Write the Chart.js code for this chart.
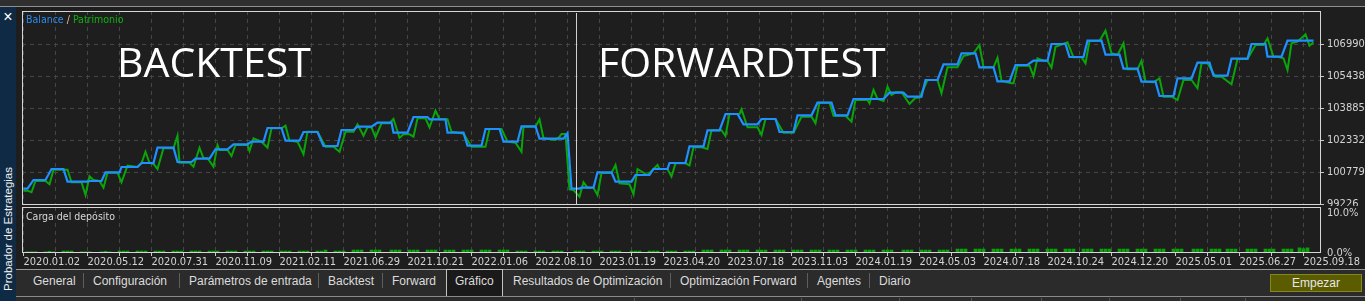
<!DOCTYPE html>
<html>
<head>
<meta charset="utf-8">
<script src="https://cdn.jsdelivr.net/npm/chart.js@4"></script>
<style>
  html, body { margin: 0; padding: 0; }
  body { width: 1365px; height: 301px; overflow: hidden; position: relative; background: #1e1e1e; font-family: 'Liberation Sans', Arial, sans-serif; }
  .abs { position: absolute; }
  .narrow { font-family: 'Liberation Sans Narrow', 'DejaVu Sans Condensed', 'Liberation Sans', sans-serif; }
  #topbar { left: 0; top: 0; width: 1365px; height: 6px; background: #2f2f2f; }
  #topline { left: 0; top: 6px; width: 1365px; height: 1px; background: #8f8f8f; }
  #side { left: 0; top: 7px; width: 16px; height: 294px; background: #0f2a45; }
  #close { left: 0; top: 9px; width: 16px; text-align: center; color: #fff; font-size: 16px; line-height: 16px; }
  #sideText { left: 2px; top: 291px; transform-origin: 0 0; transform: rotate(-90deg); color: #f0f0f0; font-size: 11.5px; line-height: 12px; white-space: nowrap; }
  #legend { left: 26px; top: 13px; font-size: 10.5px; line-height: 12px; white-space: nowrap; }
  .big { color: #fff; font-family: 'Open Sans', sans-serif; font-size: 41px; line-height: 41px; white-space: nowrap; }
  #loadTitle { left: 26px; top: 210px; font-size: 10.5px; line-height: 12px; color: #d8d8d8; white-space: nowrap; }
  #tabbar { left: 16px; top: 269px; width: 1349px; height: 27px; background: #2b2b2b; border-top: 1px solid #9a9a9a; box-sizing: border-box; }
  #activeTab { left: 446px; top: 269px; width: 57px; height: 27px; background: #1a1a1a; border: 1px solid #c4c4c4; border-bottom: none; box-sizing: border-box; }
  .tab { top: 274px; color: #dcdcdc; font-size: 12px; line-height: 14px; white-space: nowrap; }
  .sep { top: 273px; width: 1px; height: 15px; background: #5e5e5e; }
  #bottomline { left: 16px; top: 296px; width: 1349px; height: 1px; background: #8a8a8a; }
  #status { left: 16px; top: 297px; width: 1349px; height: 4px; background: #2b2b2b; }
  .ssep { top: 298px; width: 1px; height: 3px; background: #555; }
  #startBtn { left: 1270px; top: 274px; width: 92px; height: 18px; background: #5b5b00; border: 1px solid #86861c; box-sizing: border-box; color: #e8e8e8; font-size: 12px; line-height: 16px; text-align: center; }
</style>
</head>
<body>
<div class="abs" id="topbar"></div>
<div class="abs" id="topline"></div>
<div class="abs" id="side"></div>
<div class="abs" id="close">×</div>
<div class="abs" id="sideText">Probador de Estrategias</div>

<canvas class="abs" id="equityChart" width="1343" height="195" style="left:22px;top:11px;"></canvas>
<canvas class="abs" id="loadChart" width="1343" height="64" style="left:22px;top:207px;"></canvas>

<div class="abs narrow" id="legend"><span style="color:#2a8cf0">Balance</span> <span style="color:#e0c8a8">/</span> <span style="color:#10b010">Patrimonio</span></div>
<div class="abs big" style="left:117px;top:41px;">BACKTEST</div>
<div class="abs big" style="left:598px;top:41px;">FORWARDTEST</div>
<div class="abs narrow" id="loadTitle">Carga del depósito</div>

<div class="abs" id="tabbar"></div>
<div class="abs" id="activeTab"></div>
<div class="abs tab" style="left:33px">General</div>
<div class="abs sep" style="left:83px"></div>
<div class="abs tab" style="left:93px">Configuración</div>
<div class="abs sep" style="left:179px"></div>
<div class="abs tab" style="left:189px">Parámetros de entrada</div>
<div class="abs sep" style="left:318px"></div>
<div class="abs tab" style="left:328px">Backtest</div>
<div class="abs sep" style="left:382px"></div>
<div class="abs tab" style="left:392px">Forward</div>
<div class="abs tab" style="left:455px">Gráfico</div>
<div class="abs tab" style="left:513px">Resultados de Optimización</div>
<div class="abs sep" style="left:670px"></div>
<div class="abs tab" style="left:680px">Optimización Forward</div>
<div class="abs sep" style="left:807px"></div>
<div class="abs tab" style="left:817px">Agentes</div>
<div class="abs sep" style="left:869px"></div>
<div class="abs tab" style="left:879px">Diario</div>
<div class="abs" id="startBtn">Empezar</div>
<div class="abs" id="bottomline"></div>
<div class="abs" id="status"></div>
<div class="abs ssep" style="left:634px"></div>
<div class="abs ssep" style="left:801px"></div>
<div class="abs ssep" style="left:899px"></div>
<div class="abs ssep" style="left:971px"></div>
<div class="abs ssep" style="left:1041px"></div>
<div class="abs ssep" style="left:1109px"></div>
<div class="abs ssep" style="left:1180px"></div>
<div class="abs ssep" style="left:1245px"></div>

<script>
// eje X: número de operación en el historial (backtest + forward)
const dateLabels = ['2020.01.02', '2020.05.12', '2020.07.31', '2020.11.09', '2021.02.11', '2021.06.29',
  '2021.10.21', '2022.01.06', '2022.08.10', '2023.01.19', '2023.04.20', '2023.07.18', '2023.11.03',
  '2024.01.19', '2024.05.03', '2024.07.18', '2024.10.24', '2024.12.20', '2025.05.01', '2025.06.27', '2025.09.18'];
const yTickValues = [99226, 100779, 102332, 103885, 105438, 106990];
const loadTickValues = [0, 10];
const loadTickLabels = ['0.0%', '10.0%'];
const forwardStartDeal = 276;

// balance: cada tramo plano (desde, hasta, valor)
const balanceFrom = [0, 5, 14, 22, 33, 41, 49, 59, 67, 77, 86, 96, 105, 114, 122, 131, 140, 150, 159, 167,
  177, 185, 195, 203, 212, 222, 231, 240, 249, 258, 272, 274, 279, 287, 296, 306, 315, 323, 333, 342,
  351, 360, 369, 378, 387, 397, 406, 415, 433, 442, 451, 460, 469, 478, 487, 496, 505, 514, 523, 532,
  541, 550, 559, 568, 577, 587, 595, 604, 614, 622, 632];
const balanceTo = [2, 11, 20, 32, 39, 48, 57, 65, 75, 84, 93, 102, 112, 120, 129, 138, 147, 157, 165, 174,
  184, 192, 202, 211, 220, 229, 238, 247, 256, 270, 272, 278, 285, 294, 304, 313, 322, 331, 340, 348,
  357, 367, 376, 385, 394, 404, 412, 430, 440, 449, 457, 467, 476, 485, 493, 502, 512, 521, 530, 539,
  548, 557, 566, 575, 584, 593, 602, 612, 621, 629, 645];
const balanceValue = [100000, 100415, 100949, 100332, 100366, 100789, 101046, 101240, 101982, 101288,
  101448, 101905, 102147, 102273, 102938, 102322, 102744, 102065, 102841, 103001,
  103195, 102710, 103472, 103360, 102710, 102079, 102890, 102273, 103021, 102419,
  102681, 100000, 100041, 100789, 100332, 100657, 100949, 101240, 102050, 102826,
  103617, 103118, 103375, 102744, 103554, 104166, 103554, 104345, 104651, 104457,
  105267, 106029, 106563, 105884, 105200, 105995, 106204, 107014, 106383, 107174,
  106495, 105816, 105185, 104491, 105350, 106107, 105476, 106301, 107014, 106398, 107174];

// patrimonio (equity)
const equityDeal = [0, 2, 4, 6, 11, 13, 15, 22, 24, 29,
  31, 33, 35, 38, 40, 42, 47, 49, 52, 57,
  59, 61, 63, 65, 67, 70, 75, 77, 78, 83,
  85, 88, 90, 92, 95, 97, 98, 102, 104, 106,
  112, 113, 115, 119, 122, 124, 129, 131, 133, 137,
  140, 142, 147, 151, 155, 158, 161, 165, 167, 170,
  172, 174, 176, 179, 183, 185, 188, 190, 193, 195,
  197, 201, 203, 206, 208, 212, 214, 220, 224, 231,
  233, 239, 242, 246, 249, 250, 256, 258, 260, 266,
  268, 269, 271, 273, 275, 278, 280, 282, 285, 287,
  289, 294, 296, 298, 303, 305, 307, 312, 317, 318,
  322, 324, 326, 331, 333, 335, 339, 342, 344, 349,
  351, 353, 358, 359, 362, 367, 369, 371, 376, 380,
  385, 389, 394, 396, 398, 403, 405, 411, 414, 416,
  422, 423, 425, 427, 430, 432, 434, 436, 439, 443,
  446, 448, 452, 457, 459, 462, 467, 470, 475, 478,
  480, 485, 487, 489, 494, 495, 497, 503, 505, 507,
  510, 512, 514, 516, 522, 525, 529, 531, 533, 538,
  541, 544, 547, 550, 552, 557, 559, 561, 565, 568,
  570, 574, 577, 580, 584, 587, 589, 592, 596, 599,
  604, 607, 612, 616, 620, 622, 625, 627, 630, 632,
  634, 637, 641, 643, 645];
const equityValue = [99896, 99896, 99818, 100366, 100366, 100206, 100915, 100915, 100303, 100303,
  99687, 100594, 100415, 100366, 100041, 100769, 100769, 100303, 101108, 101046,
  101225, 101788, 101240, 101191, 100948, 101953, 101953, 102564, 101254, 101254,
  101060, 101982, 101468, 101468, 101060, 102113, 101870, 101870, 101579, 102113,
  102113, 101822, 102438, 102273, 101982, 102923, 102923, 103049, 102321, 102273,
  101662, 102758, 102758, 102030, 102030, 101788, 102758, 102758, 103117, 102564,
  102972, 102972, 102486, 103166, 103166, 103374, 102467, 102632, 102632, 102516,
  103408, 103408, 102972, 103777, 103360, 103360, 102758, 102661, 102030, 102030,
  102889, 102889, 102273, 102224, 101788, 103001, 103001, 103360, 102438, 102355,
  102516, 102647, 102647, 99963, 99929, 99604, 100303, 100041, 100041, 99687,
  100754, 100754, 101142, 100254, 100206, 99721, 100948, 100657, 101142, 100948,
  100948, 100575, 101225, 101225, 101120, 102001, 102001, 101919, 102826, 102826,
  102550, 103617, 103617, 103845, 102972, 102972, 102598, 103374, 103374, 102710,
  102710, 103486, 103486, 103166, 104166, 104166, 103535, 103535, 103244, 104297,
  104297, 104136, 104782, 104345, 104248, 104942, 104539, 104670, 104670, 104102,
  104408, 104408, 105267, 105267, 104622, 105883, 105883, 106432, 106563, 106965,
  105883, 105883, 106349, 105218, 105107, 105107, 105961, 105961, 105461, 106320,
  106203, 106203, 105864, 106883, 107096, 106368, 106368, 106077, 107159, 107159,
  107659, 106563, 106480, 107048, 105786, 105786, 106203, 105184, 105155, 105349,
  104457, 104457, 104297, 105267, 105267, 104864, 106077, 106077, 105427, 105427,
  105058, 106286, 106286, 106965, 106965, 107290, 106398, 106398, 106320, 105752,
  107048, 107125, 107485, 106931, 107096];

// carga del depósito (%)
const loadDeal = [2, 4, 6, 11, 13, 15, 20, 22, 24, 29, 31, 33, 39, 41, 43,
  48, 50, 52, 57, 59, 61, 66, 68, 70, 75, 77, 79, 84, 86, 88,
  93, 95, 97, 102, 104, 106, 111, 113, 115, 120, 122, 124, 129, 131, 133,
  138, 140, 142, 147, 149, 151, 156, 158, 160, 165, 167, 169, 174, 176, 178,
  184, 186, 188, 193, 195, 197, 202, 204, 206, 211, 213, 215, 220, 222, 224,
  229, 231, 233, 238, 240, 242, 247, 249, 251, 256, 258, 260, 265, 267, 269,
  276, 278, 280, 285, 287, 289, 294, 296, 298, 304, 306, 308, 313, 315, 317,
  322, 324, 326, 331, 333, 335, 340, 342, 344, 349, 351, 353, 358, 360, 362,
  367, 369, 371, 376, 378, 380, 385, 387, 389, 394, 396, 398, 403, 405, 407,
  412, 414, 416, 421, 423, 425, 430, 432, 434, 440, 442, 444, 449, 451, 453,
  458, 460, 462, 467, 469, 471, 476, 478, 480, 485, 487, 489, 494, 496, 498,
  503, 505, 507, 512, 514, 516, 521, 523, 525, 530, 532, 534, 539, 541, 543,
  548, 550, 552, 557, 559, 561, 566, 568, 570, 575, 577, 579, 585, 587, 589,
  594, 596, 598, 602, 604, 606, 612, 614, 616, 621, 623, 625, 630, 632, 634,
  638, 640, 642];
const loadPercent = [0.3, 0.3, 0.3, 0.3, 0.45, 0.3, 0.5, 0.5, 0.5, 0.3, 0.3, 0.3, 0.3, 0.45, 0.3,
  0.5, 0.5, 0.5, 0.5, 0.5, 0.5, 0.5, 0.5, 0.5, 0.5, 0.5, 0.5, 0.5, 0.5, 0.5,
  0.5, 0.5, 0.5, 0.5, 0.5, 0.5, 0.5, 0.5, 0.5, 0.5, 0.5, 0.5, 0.5, 0.5, 0.5,
  0.5, 0.5, 0.5, 0.5, 0.5, 0.75, 0.5, 0.5, 0.5, 0.75, 0.75, 0.75, 0.75, 0.75, 0.75,
  0.75, 0.75, 0.75, 0.75, 0.75, 0.75, 0.75, 0.75, 0.75, 0.75, 0.75, 0.75, 0.75, 0.75, 0.75,
  0.75, 0.75, 0.75, 0.75, 0.75, 0.75, 0.5, 0.5, 0.5, 0.5, 0.5, 0.5, 0.5, 0.5, 0.5,
  0.5, 0.5, 0.5, 0.5, 0.5, 0.5, 0.5, 0.5, 0.5, 0.5, 0.5, 0.5, 0.5, 0.5, 0.5,
  0.5, 0.5, 0.5, 0.5, 0.5, 0.5, 0.75, 0.75, 0.75, 0.75, 0.75, 0.75, 0.75, 0.75, 0.75,
  0.75, 0.75, 0.75, 0.75, 0.75, 0.75, 0.75, 0.75, 0.75, 0.75, 0.75, 0.75, 0.75, 0.75, 0.75,
  0.75, 0.75, 0.75, 0.75, 0.75, 0.75, 0.75, 0.75, 0.75, 0.75, 0.75, 0.75, 0.75, 0.75, 0.75,
  0.75, 0.75, 0.75, 1.0, 1.0, 1.0, 1.0, 1.0, 1.0, 1.0, 1.0, 1.0, 1.0, 1.0, 1.0,
  1.0, 1.0, 1.0, 1.0, 1.0, 1.0, 1.0, 1.0, 1.0, 1.0, 1.0, 1.0, 1.0, 1.0, 1.0,
  1.0, 1.0, 1.0, 1.0, 1.0, 1.0, 1.0, 1.0, 1.0, 1.0, 1.0, 1.0, 1.0, 1.0, 1.0,
  1.0, 1.0, 1.0, 1.0, 1.0, 1.0, 1.0, 1.0, 1.0, 1.0, 1.0, 1.0, 1.0, 1.0, 1.0,
  1.3, 1.1, 1.3];

const NARROW = "'Liberation Sans Narrow', 'DejaVu Sans Condensed', 'Liberation Sans', sans-serif";
const X_MIN = -0.75;
const X_MAX = 648.75;
const GRID = '#474747';
const LABEL = '#d4d4d4';

// tramos planos -> puntos de la línea del balance
const balancePoints = [];
balanceFrom.forEach((from, i) => {
  balancePoints.push({ x: from, y: balanceValue[i] });
  if (balanceTo[i] !== from) balancePoints.push({ x: balanceTo[i], y: balanceValue[i] });
});
const equityPoints = equityDeal.map((d, i) => ({ x: d, y: equityValue[i] }));
const loadPoints = loadDeal.map((d, i) => ({ x: d, y: loadPercent[i] }));

// una marca cada 16 operaciones, etiqueta de fecha cada 32
const xGridTicks = [];
dateLabels.forEach((_, i) => {
  xGridTicks.push(i * 32);
  if (i < dateLabels.length - 1) xGridTicks.push(i * 32 + 16);
});

const fixWidth = (w) => (s) => { s.width = w; s.paddingTop = 0; s.paddingBottom = 0; };
const fixHeight = (h) => (s) => { s.height = h; s.paddingLeft = 0; s.paddingRight = 0; };

const framePlugin = {
  id: 'frame',
  afterDraw(chart) {
    const { ctx, chartArea: a } = chart;
    ctx.save();
    ctx.strokeStyle = '#d6d6d6';
    ctx.lineWidth = 1;
    ctx.strokeRect(Math.round(a.left) + 0.5, Math.round(a.top) + 0.5, Math.round(a.width) - 1, Math.round(a.height) - 1);
    ctx.restore();
  }
};

const forwardPlugin = {
  id: 'forwardMark',
  afterDatasetsDraw(chart) {
    const { ctx, chartArea: a } = chart;
    const x = Math.round(chart.scales.x.getPixelForValue(forwardStartDeal)) + 0.5;
    ctx.save();
    ctx.strokeStyle = '#d0d0d0';
    ctx.lineWidth = 1;
    ctx.beginPath();
    ctx.moveTo(x, a.top + 2);
    ctx.lineTo(x, a.bottom);
    ctx.stroke();
    ctx.restore();
  }
};

new Chart(document.getElementById('equityChart'), {
  type: 'line',
  data: {
    datasets: [
      { label: 'Balance', data: balancePoints, borderColor: '#1e90ff', borderWidth: 2.2, pointRadius: 0, tension: 0 },
      { label: 'Patrimonio', data: equityPoints, borderColor: '#0aa50a', borderWidth: 2, pointRadius: 0, tension: 0 }
    ]
  },
  options: {
    responsive: false,
    animation: false,
    events: [],
    layout: { padding: 0 },
    plugins: { legend: { display: false }, tooltip: { enabled: false } },
    scales: {
      x: {
        type: 'linear', min: X_MIN, max: X_MAX,
        afterBuildTicks: (s) => { s.ticks = xGridTicks.map(v => ({ value: v })); },
        afterFit: fixHeight(1),
        ticks: { display: false },
        grid: { color: GRID, drawTicks: false },
        border: { display: false, dash: [4, 4] }
      },
      y: {
        position: 'right', min: 99201, max: 108615,
        afterBuildTicks: (s) => { s.ticks = yTickValues.map(v => ({ value: v })); },
        afterFit: fixWidth(44),
        ticks: { color: LABEL, font: { family: NARROW, size: 11 }, padding: 3, callback: (v) => String(v) },
        grid: { color: GRID, tickLength: 3, tickColor: '#c8c8c8' },
        border: { display: false, dash: [4, 4] }
      }
    }
  },
  plugins: [framePlugin, forwardPlugin]
});

new Chart(document.getElementById('loadChart'), {
  type: 'bar',
  data: {
    datasets: [{ label: 'Carga del depósito', data: loadPoints, backgroundColor: '#0b9f0b', barThickness: 3, borderWidth: 0 }]
  },
  options: {
    responsive: false,
    animation: false,
    events: [],
    layout: { padding: 0 },
    plugins: { legend: { display: false }, tooltip: { enabled: false } },
    scales: {
      x: {
        type: 'linear', min: X_MIN, max: X_MAX, offset: false,
        afterBuildTicks: (s) => { s.ticks = xGridTicks.map(v => ({ value: v })); },
        afterFit: fixHeight(18),
        ticks: {
          color: LABEL, font: { family: NARROW, size: 11 }, padding: 0, align: 'start',
          maxRotation: 0, autoSkip: false,
          callback: (v) => (v % 32 === 0 ? dateLabels[v / 32] : '')
        },
        grid: { offset: false, color: GRID, tickLength: 3, tickColor: '#c8c8c8' },
        border: { display: false, dash: [4, 4] }
      },
      y: {
        position: 'right', min: 0, max: 11.65,
        afterBuildTicks: (s) => { s.ticks = loadTickValues.map(v => ({ value: v })); },
        afterFit: fixWidth(44),
        ticks: { color: LABEL, font: { family: NARROW, size: 11 }, padding: 6, callback: (v, i) => loadTickLabels[i] },
        grid: { display: false, drawTicks: false },
        border: { display: false }
      }
    }
  },
  plugins: [framePlugin]
});
</script>
</body>
</html>
